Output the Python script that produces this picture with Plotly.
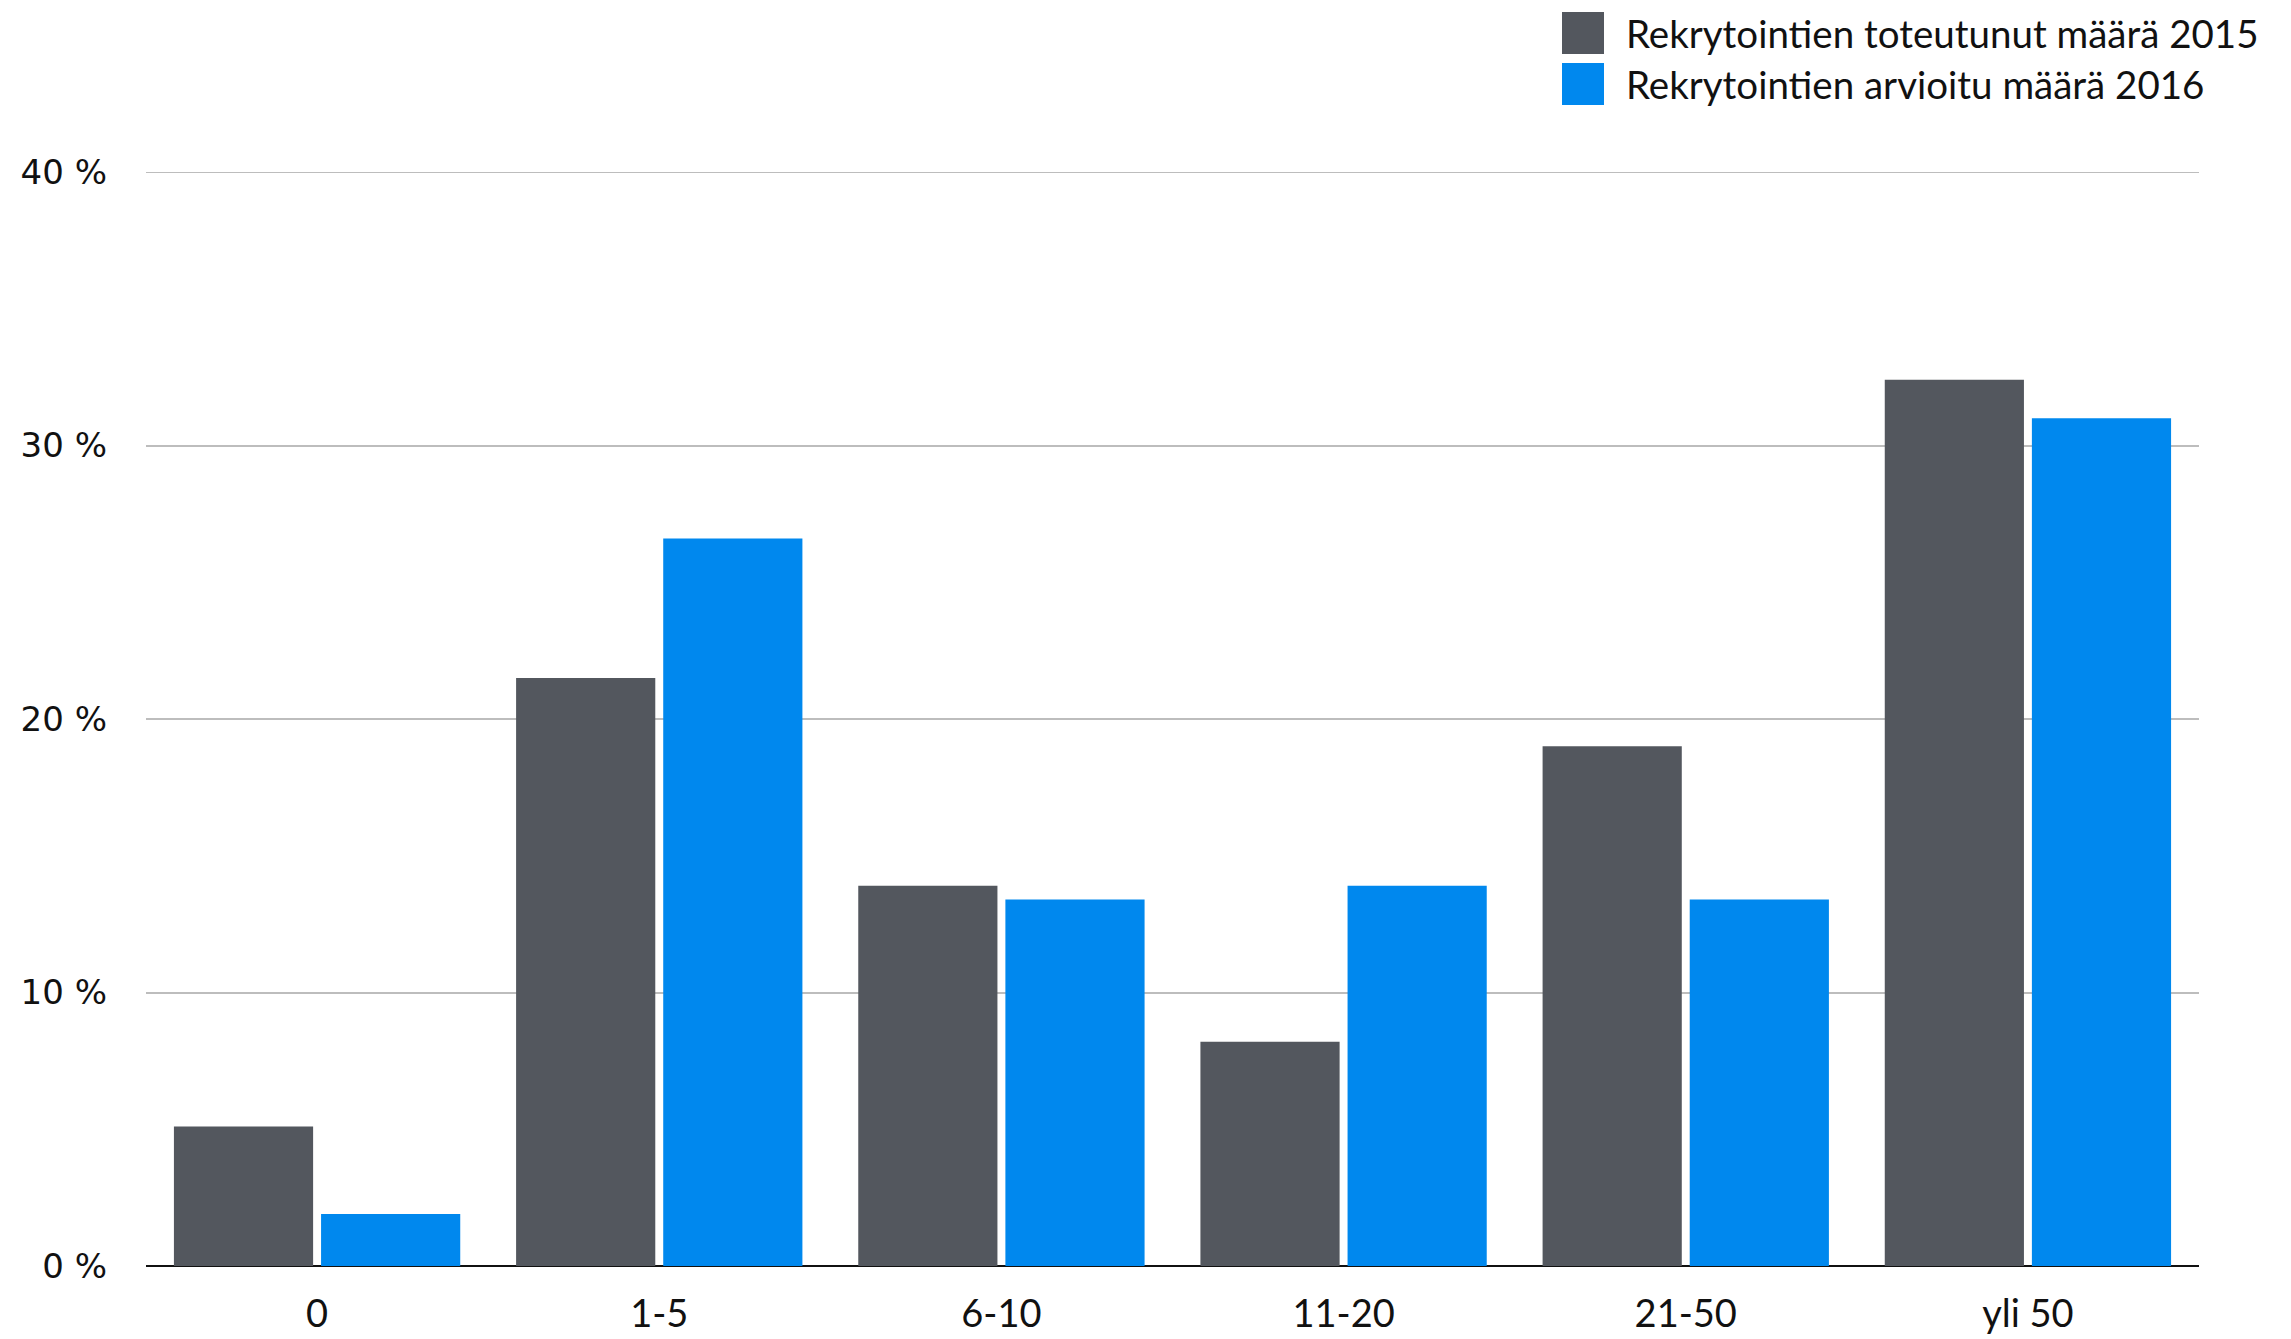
import plotly.graph_objects as go

categories = ["0", "1-5", "6-10", "11-20", "21-50", "yli 50"]
toteutunut_2015 = [5.1, 21.5, 13.9, 8.2, 19.0, 32.4]
arvioitu_2016 = [1.9, 26.6, 13.4, 13.9, 13.4, 31.0]
series_names = ["Rekrytointien toteutunut määrä 2015", "Rekrytointien arvioitu määrä 2016"]
series_colors = ["#53575e", "#0088ee"]
y_ticks = [0, 10, 20, 30, 40]
y_tick_labels = [f"{v} %" for v in y_ticks]

W, H = 2291, 1339
ML, MR, MT, MB = 146, 92, 172, 73
PW, PH = W - ML - MR, H - MT - MB
GRID = "#bdbdbd"

fig = go.Figure()
for name, vals, col in zip(series_names, [toteutunut_2015, arvioitu_2016], series_colors):
    fig.add_trace(go.Bar(x=categories, y=vals, name=name, marker=dict(color=col, line=dict(width=0)),
                         showlegend=False))

# top gridline sits on the plot edge, so draw it explicitly
fig.add_shape(type="line", xref="paper", yref="y", x0=0, x1=1, y0=y_ticks[-1], y1=y_ticks[-1],
              line=dict(color=GRID, width=2), layer="below")

# legend drawn with large square swatches
leg_x0, leg_top, sw, row_h = 1562, 12, 42, 51
for i, (name, col) in enumerate(zip(series_names, series_colors)):
    y0 = leg_top + i * row_h
    fig.add_shape(type="rect", xref="paper", yref="paper",
                  x0=(leg_x0 - ML) / PW, x1=(leg_x0 + sw - ML) / PW,
                  y0=1 + (MT - y0) / PH, y1=1 + (MT - y0 - sw) / PH,
                  fillcolor=col, line=dict(width=0))
    fig.add_annotation(text=name, xref="paper", yref="paper", showarrow=False,
                       x=(leg_x0 + sw + 20 - ML) / PW, xanchor="left",
                       y=1 + (MT - y0 - sw / 2) / PH, yanchor="middle",
                       font=dict(family="Lato", size=38.5, color="#111111"))

fig.update_layout(
    width=W, height=H,
    margin=dict(l=ML, r=MR, t=MT, b=MB),
    plot_bgcolor="white", paper_bgcolor="white",
    barmode="group", bargap=0.14, bargroupgap=0.054,
    font=dict(family="Lato", color="#111111"),
    xaxis=dict(showgrid=False, ticks="", tickfont=dict(size=38), showline=False,
               ticklabelstandoff=22, automargin=False),
    yaxis=dict(range=[0, 40], tickvals=y_ticks, ticktext=y_tick_labels, showgrid=True,
               gridcolor=GRID, gridwidth=2, zeroline=True, zerolinecolor="#111111",
               zerolinewidth=2, tickfont=dict(family="DejaVu Sans", size=34),
               ticklabelstandoff=38, automargin=False),
)
fig.write_html("out.html")
